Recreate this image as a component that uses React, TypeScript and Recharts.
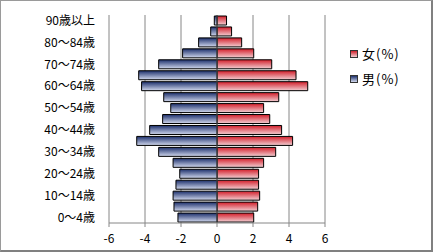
import { BarChart, Bar, XAxis, YAxis, CartesianGrid, ReferenceLine } from 'recharts';

const ageGroups = [
  '0～4歳', '5～9歳', '10～14歳', '15～19歳', '20～24歳', '25～29歳', '30～34歳',
  '35～39歳', '40～44歳', '45～49歳', '50～54歳', '55～59歳', '60～64歳', '65～69歳',
  '70～74歳', '75～79歳', '80～84歳', '85～89歳', '90歳以上',
];

const male = [
  -2.17, -2.39, -2.44, -2.28, -2.07, -2.44, -3.24, -4.46, -3.74, -3.02,
  -2.57, -2.96, -4.19, -4.35, -3.24, -1.91, -1.02, -0.35, -0.15,
];

const female = [
  2.04, 2.26, 2.37, 2.31, 2.31, 2.59, 3.26, 4.2, 3.59, 2.93,
  2.59, 3.43, 5.04, 4.39, 3.04, 2.04, 1.37, 0.81, 0.53,
];

const xTicks = [-6, -4, -2, 0, 2, 4, 6];

const data = ageGroups.map((age, i) => ({ age, male: male[i], female: female[i] }));

const legendItems = [
  { label: '女(%)', from: '#d21e2a', to: '#f2cfd3' },
  { label: '男(%)', from: '#1c2f6b', to: '#d2d9ee' },
];

const font = '"Noto Sans CJK JP", "Noto Sans", sans-serif';

export default function App() {
  return (
    <div
      style={{
        position: 'absolute',
        left: 0,
        top: 0,
        width: 433,
        height: 252,
        boxSizing: 'border-box',
        borderTop: '1px solid #9a9a9a',
        borderLeft: '1px solid #9a9a9a',
        borderRight: '2px solid #808080',
        borderBottom: '2px solid #808080',
        background: '#fff',
        overflow: 'hidden',
      }}
    >
      <div style={{ position: 'absolute', left: -1, top: -1 }}>
        <BarChart
          width={433}
          height={252}
          data={data}
          layout="vertical"
          stackOffset="sign"
          barCategoryGap={1}
          margin={{ top: 15, right: 108, left: 0, bottom: 4 }}
        >
          <defs>
            <linearGradient id="blueGrad" x1="0" y1="0" x2="0" y2="1">
              <stop offset="0%" stopColor="#1c2f6b" />
              <stop offset="100%" stopColor="#d2d9ee" />
            </linearGradient>
            <linearGradient id="redGrad" x1="0" y1="0" x2="0" y2="1">
              <stop offset="0%" stopColor="#d21e2a" />
              <stop offset="100%" stopColor="#f2cfd3" />
            </linearGradient>
          </defs>
          <CartesianGrid horizontal={false} stroke="#868686" />
          <XAxis
            type="number"
            domain={[-6, 6]}
            ticks={xTicks}
            height={25}
            stroke="#868686"
            tickSize={4}
            tick={{ fontSize: 12, fill: '#000', fontFamily: font }}
            tickMargin={7}
          />
          <YAxis
            type="category"
            dataKey="age"
            reversed
            interval={1}
            width={109}
            axisLine={false}
            tickLine={false}
            tickSize={0}
            tickMargin={14}
            tick={{ fontSize: 12, fill: '#000', fontFamily: font }}
          />
          <Bar dataKey="female" stackId="a" fill="url(#redGrad)" stroke="#000" strokeWidth={1} isAnimationActive={false} />
          <Bar dataKey="male" stackId="a" fill="url(#blueGrad)" stroke="#000" strokeWidth={1} isAnimationActive={false} />
          <ReferenceLine x={0} stroke="#555" />
        </BarChart>
      </div>
      <div style={{ position: 'absolute', left: 349, top: 40, fontFamily: font, fontSize: 13, color: '#000' }}>
        {legendItems.map((item) => (
          <div key={item.label} style={{ display: 'flex', alignItems: 'center', height: 25, letterSpacing: 1 }}>
            <span
              style={{
                display: 'inline-block',
                width: 6,
                height: 6,
                border: '1px solid #333',
                background: `linear-gradient(${item.from}, ${item.to})`,
                marginRight: 4,
              }}
            />
            {item.label}
          </div>
        ))}
      </div>
    </div>
  );
}
